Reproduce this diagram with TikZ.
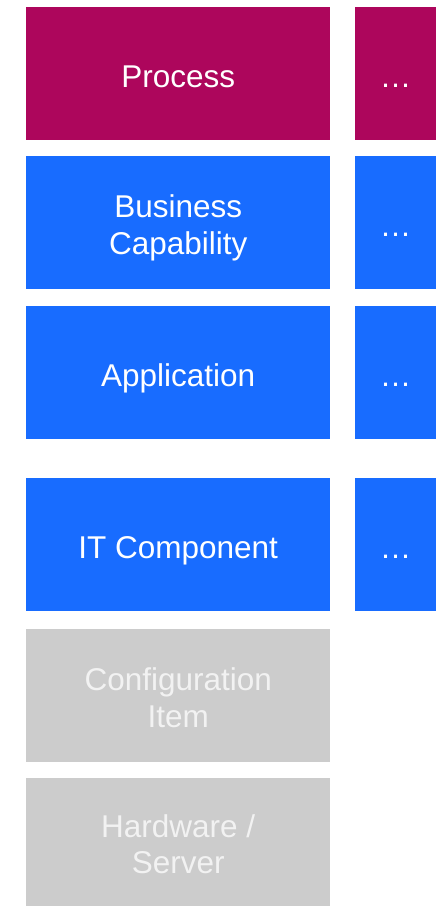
\documentclass[tikz,border=0pt]{standalone}
\usepackage{fontspec}
\setmainfont{Liberation Sans}
\usepackage{tikz}
\definecolor{layerProcess}{HTML}{AD065C}
\definecolor{layerBlue}{HTML}{186CFF}
\definecolor{layerGray}{HTML}{CCCCCC}
\definecolor{layerGrayText}{HTML}{F2F2F2}
% text sits a little below the box centre
\newcommand{\lbl}[1]{\raisebox{-6pt}[\height][\depth]{\begin{tabular}{@{}c@{}}#1\end{tabular}}}

\begin{document}
\begin{tikzpicture}[
    x=1pt, y=-1pt,
    layer/.style={rectangle, anchor=north west, inner sep=0pt, minimum width=304pt, minimum height=133pt, text=white, font=\fontsize{31.5}{36.5}\selectfont},
    more/.style={layer, minimum width=81pt},
    proc/.style={fill=layerProcess},
    blue/.style={fill=layerBlue},
    gray/.style={fill=layerGray, text=layerGrayText}
]
\useasboundingbox (0,0) rectangle (444,906);

\node[layer, proc] (process) at (26,7) {\lbl{Process}};
\node[layer, blue] (capability) at (26,156) {\lbl{Business\\Capability}};
\node[layer, blue] (application) at (26,306) {\lbl{Application}};
\node[layer, blue] (itcomp) at (26,478) {\lbl{IT Component}};
\node[layer, gray] (confitem) at (26,629) {\lbl{Configuration\\Item}};
\node[layer, gray, minimum height=128pt] (hardware) at (26,778) {\lbl{Hardware /\\Server}};

\node[more, proc] (processmore) at (355,7) {\lbl{…}};
\node[more, blue] (capabilitymore) at (355,156) {\lbl{…}};
\node[more, blue] (applicationmore) at (355,306) {\lbl{…}};
\node[more, blue] (itcompmore) at (355,478) {\lbl{…}};

\end{tikzpicture}
\end{document}
